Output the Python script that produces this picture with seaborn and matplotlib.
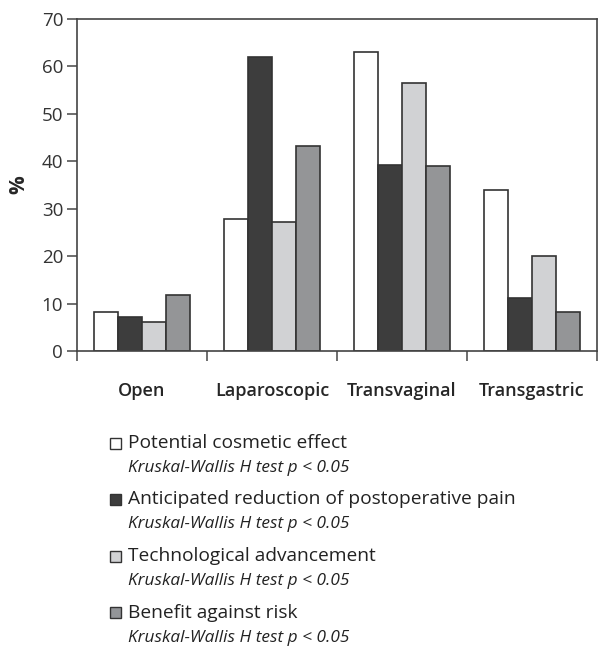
import pandas as pd
import seaborn as sns
import matplotlib.pyplot as plt
from matplotlib.patches import Rectangle

approaches = ['Open', 'Laparoscopic', 'Transvaginal', 'Transgastric']
reasons = ['Potential cosmetic effect',
           'Anticipated reduction of postoperative pain',
           'Technological advancement',
           'Benefit against risk']
cosmetic = [8.2, 27.9, 63.1, 34.0]
pain = [7.2, 62.0, 39.3, 11.2]
technology = [6.1, 27.1, 56.4, 20.0]
benefit = [11.9, 43.2, 39.0, 8.2]
note = 'Kruskal-Wallis H test p < 0.05'
colors = ['#ffffff', '#3d3d3d', '#d1d2d4', '#939598']

rows = []
for reason, vals in zip(reasons, [cosmetic, pain, technology, benefit]):
    for a, v in zip(approaches, vals):
        rows.append({'approach': a, 'reason': reason, 'pct': v})
df = pd.DataFrame(rows)

sns.set_style('white')
plt.rcParams['font.family'] = ['Open Sans', 'DejaVu Sans']

fig = plt.figure(figsize=(5.98, 6.46), dpi=100)
ax = fig.add_axes([0.1288, 0.4567, 0.8695, 0.5139])
sns.barplot(data=df, x='approach', y='pct', hue='reason', palette=colors,
            width=0.74, edgecolor='#333333', linewidth=1.2, legend=False, ax=ax)

ax.set_ylim(0, 70)
ax.set_xlim(-0.5, 3.5)
ax.set_yticks(range(0, 71, 10))
ax.tick_params(axis='y', length=7, width=1.2, color='#555555', labelsize=13.5,
               labelcolor='#333333', pad=3, left=True)
ax.set_xticks([-0.5, 0.5, 1.5, 2.5, 3.5], minor=True)
ax.tick_params(axis='x', which='minor', length=7, width=1.2, color='#555555', bottom=True)
ax.tick_params(axis='x', which='major', length=0, pad=22, labelsize=13)
for t in ax.get_xticklabels():
    t.set_fontweight('semibold')
ax.set_xlabel('')
ax.set_ylabel('%', fontsize=15, fontweight='bold', labelpad=9)
for s in ax.spines.values():
    s.set_color('#444444')
    s.set_linewidth(1.2)

# legend below
y0 = 443
for i, (reason, c) in enumerate(zip(reasons, colors)):
    y = y0 + i * 56.5
    fig.patches.append(Rectangle((110 / 598, 1 - (y + 5.5) / 646), 11 / 598, 11 / 646,
                                 transform=fig.transFigure, facecolor=c,
                                 edgecolor='#333333', linewidth=1))
    fig.text(128 / 598, 1 - y / 646, reason, fontsize=13.8, color='#222222', va='center')
    fig.text(128 / 598, 1 - (y + 25) / 646, note, fontsize=12.4, style='italic',
             color='#222222', va='center')

fig.savefig('out.png', dpi=100)
